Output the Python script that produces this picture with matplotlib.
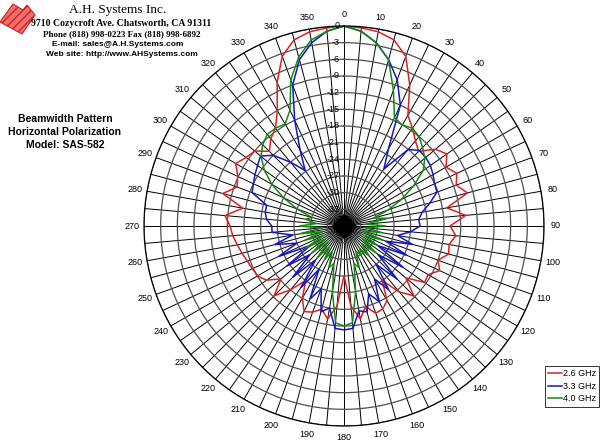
import numpy as np
import matplotlib.pyplot as plt
from matplotlib.patches import Polygon

# pattern data, dB, every 5 degrees starting at 0 (clockwise from top)
angles = np.arange(0, 360, 5)
red_db = [0, -0.2, -0.5, -1.3, -3.5, -8, -13, -14.5, -16, -17, -14.5, -13.4,
          -14.8, -13.6, -14.5, -13, -17.2, -14, -16.9, -15.8, -16.8, -16.5, -18, -17,
          -18.5, -18.3, -21.5, -18.2, -20.5, -24, -20.5, -19.5, -19.3, -21, -19, -21.5,
          -27, -21.5, -19, -20.5, -19.5, -19, -21, -24, -21, -18.2, -21.2, -19,
          -18, -17.8, -17.5, -17, -16.5, -15.9, -15.5, -14.5, -17.5, -13.4, -15.5, -14.9,
          -13.5, -14.5, -15, -17, -15.5, -14.5, -12, -7.5, -3.5, -1.3, -0.5, -0.2]
blue_db = [0, -0.8, -2.5, -5, -8, -12, -20, -23.5, -18, -16.8, -16.8, -17,
           -17.5, -18, -18.2, -20, -21.7, -22.5, -22.3, -24, -26.2, -23.3, -28, -23.5,
           -29, -23, -28, -22.5, -27, -22, -25, -21, -23, -20, -20.5, -17.5,
           -17.3, -17.5, -21, -20, -24, -21.5, -27, -22.5, -28, -23, -28, -23.5,
           -29, -23, -27, -23.1, -26.6, -23, -23, -22, -21.6, -21.6, -18.4, -18,
           -17.5, -17, -16.4, -18, -21, -23.8, -20.2, -15, -9, -5, -2.5, -0.8]
green_db = [0, -0.8, -2.5, -5, -10, -14.5, -15, -14.5, -15, -16, -17, -18.6,
            -21.5, -24.5, -27.5, -30.5, -28, -32, -28.5, -32, -29, -32.5, -28.5, -32,
            -29, -32, -28.5, -31.5, -29, -31, -30, -31, -28, -29, -24, -18.5,
            -18, -18.5, -24, -29, -28, -31, -29, -31.5, -28.5, -32, -28.5, -32,
            -28, -32, -28.5, -32, -28, -32, -28, -31, -29, -30, -27, -24,
            -21, -18.5, -16.5, -15.3, -14.5, -14.5, -14.8, -13, -8, -4.5, -2, -0.8]
series_labels = ['2.6 GHz', '3.3 GHz', '4.0 GHz']
series_colors = ['#dd2020', '#1414c8', '#108a10']
r_ticks = np.arange(0, -37, -3)

header_lines = ['A.H. Systems Inc.',
                '9710 Cozycroft Ave. Chatsworth, CA 91311',
                'Phone (818) 998-0223 Fax (818) 998-6892',
                'E-mail: sales@A.H.Systems.com',
                'Web site: http://www.AHSystems.com']
side_lines = ['Beamwidth Pattern', 'Horizontal Polarization', 'Model: SAS-582']

W, H = 600, 443
fig = plt.figure(figsize=(W / 100, H / 100), dpi=100)
ax = fig.add_axes([144 / W, 17 / H, 400 / W, 400 / H], projection='polar')
ax.set_theta_zero_location('N')
ax.set_theta_direction(-1)
ax.set_ylim(-36, 0)

spokes = np.arange(0, 360, 5)
ax.set_xticks(np.radians(spokes))
ax.set_xticklabels([str(a) if a % 10 == 0 else '' for a in spokes],
                   fontsize=6.5, family='Liberation Sans')
ax.tick_params(axis='x', pad=-2)
ax.set_yticks(r_ticks)
ax.set_yticklabels([])
ax.xaxis.grid(True, color='black', lw=0.7)
ax.yaxis.grid(True, color='#505050', lw=0.9)
ax.spines['polar'].set_color('black')
ax.spines['polar'].set_linewidth(0.9)

for r in r_ticks[:-1]:
    ax.annotate(str(r), xy=(0, r), xytext=(-3, 0), textcoords='offset points',
                ha='right', va='center', fontsize=6.5, family='Liberation Sans')

th = np.radians(np.append(angles, angles[0]))
for vals, c, lab in zip([red_db, blue_db, green_db], series_colors, series_labels):
    v = np.append(vals, vals[0])
    ax.plot(th, v, color=c, lw=1.1, label=lab)

ax.plot([0], [-36], marker='D', ms=12, color='black', clip_on=False, zorder=5)

leg = fig.legend(loc='upper left', bbox_to_anchor=(545 / W, 1 - 366 / H),
                 fontsize=6.5, frameon=True, fancybox=False, edgecolor='black',
                 handlelength=1.5, handletextpad=0.1, borderpad=0.35,
                 labelspacing=0.4, borderaxespad=0)
leg.get_frame().set_linewidth(0.7)
for t in leg.get_texts():
    t.set_family('Liberation Sans')

# header
fig.text(118 / W, 1 - 10 / H, header_lines[0], ha='center', va='center',
         fontsize=9.5, family='Liberation Serif')
fig.text(121 / W, 1 - 24 / H, header_lines[1], ha='center', va='center',
         fontsize=7, family='Liberation Serif', weight='bold')
fig.text(122 / W, 1 - 34 / H, header_lines[2], ha='center', va='center',
         fontsize=6.5, family='Liberation Serif', weight='bold')
fig.text(118 / W, 1 - 45 / H, header_lines[3], ha='center', va='center',
         fontsize=6, family='Liberation Sans', weight='bold')
fig.text(122 / W, 1 - 55 / H, header_lines[4], ha='center', va='center',
         fontsize=6, family='Liberation Sans', weight='bold')

for i, s in enumerate(side_lines):
    fig.text(65 / W, 1 - (119 + 13 * i) / H, s, ha='center', va='center',
             fontsize=7.5, family='Liberation Sans', weight='bold')

# logo
logo = [(0, 22), (13, 4), (23, 10), (27, 5), (35, 15), (22, 34)]
logo = [(x / W, 1 - y / H) for x, y in logo]
fig.patches.append(Polygon(logo, closed=True, transform=fig.transFigure,
                           facecolor='#f07070', edgecolor='#d02020', hatch='////',
                           lw=0.8))

fig.savefig('out.png', dpi=100)
